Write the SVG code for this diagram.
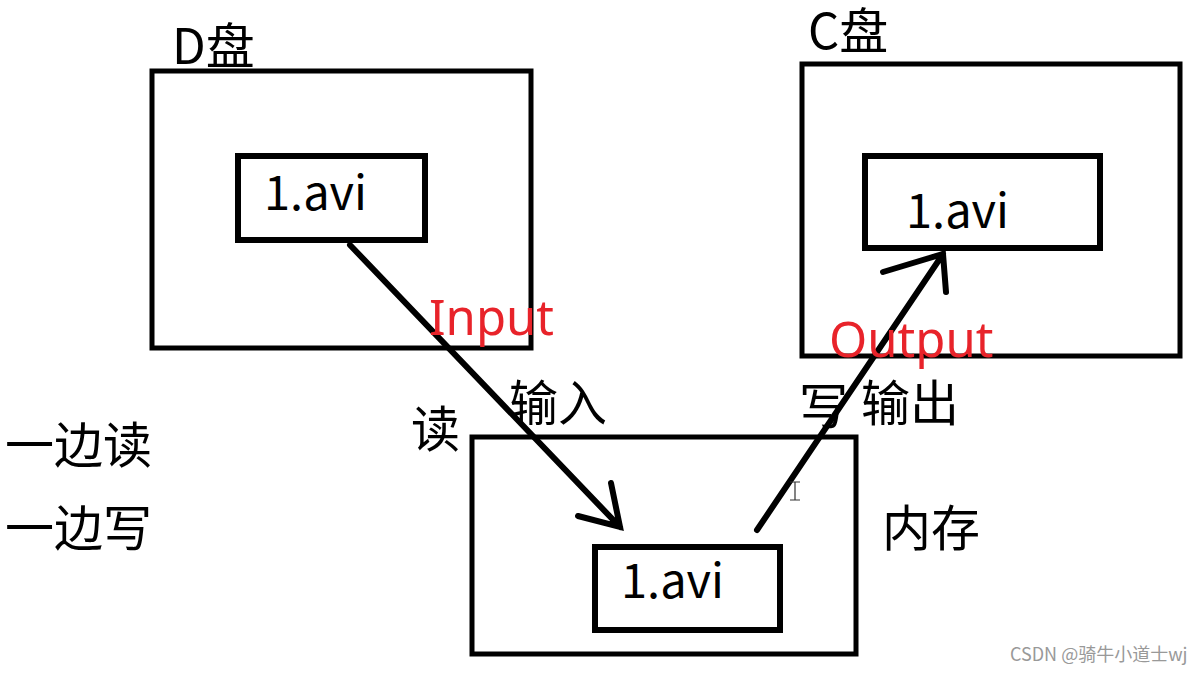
<svg xmlns="http://www.w3.org/2000/svg" width="1196" height="673" viewBox="0 0 1196 673">
<style>
.box{fill:none;stroke:#000;stroke-width:5}
.inner{fill:#fff;stroke:#000;stroke-width:6}
.t{font-family:"Noto Sans CJK SC","Noto Sans",sans-serif;font-size:47px;fill:#000}
.cn{font-family:"Noto Sans CJK SC",sans-serif;font-size:49px;fill:#000}
.red{font-family:"Noto Sans","Noto Sans CJK SC",sans-serif;font-size:49px;fill:#e8232a}
.ln{stroke:#000;stroke-width:6;stroke-linecap:round;fill:none}
</style>
<rect width="1196" height="673" fill="#fff"/>
<g id="d-disk">
<rect class="box" x="152" y="71" width="379" height="277"/>
<text class="cn" x="172" y="64">D盘</text>
</g>
<g id="d-file">
<rect class="inner" x="238" y="156" width="187" height="84"/>
<text class="t" x="264" y="210">1.avi</text>
</g>
<g id="c-disk">
<rect class="box" x="802" y="64" width="378" height="292"/>
<text class="cn" x="808" y="49" font-size="47">C盘</text>
</g>
<g id="c-file">
<rect class="inner" x="865" y="156" width="235" height="92"/>
<text class="t" x="906" y="228">1.avi</text>
</g>
<g id="memory">
<rect class="box" x="472" y="437" width="384" height="217"/>
<text class="cn" x="882" y="546">内存</text>
</g>
<g id="mem-file">
<rect class="inner" x="595" y="547" width="185" height="83"/>
<text class="t" x="621" y="598">1.avi</text>
</g>
<g id="connectors">
<path class="ln" d="M350,245 L620,527 M578,516 L620,527 L611,483"/>
<path class="ln" d="M757,530 L943,254 M883,272 L943,254 L946,292"/>
</g>
<g id="labels">
<text class="red" x="429" y="335">Input</text>
<text class="red" x="829" y="357">Output</text>
<text class="cn" x="509" y="421">输入</text>
<text class="cn" x="411" y="447">读</text>
<text class="cn" x="799" y="424">写</text>
<text class="cn" x="861" y="421">输出</text>
<text class="cn" x="5" y="463">一边读</text>
<text class="cn" x="5" y="546">一边写</text>
</g>
<path d="M790,482 h10 M795,482 v18 M790,500 h10" stroke="#333" stroke-width="1.2" fill="none"/>
<text x="1010" y="661" font-family="Noto Sans CJK SC,sans-serif" font-size="18" fill="#999">CSDN @骑牛小道士wj</text>
</svg>
